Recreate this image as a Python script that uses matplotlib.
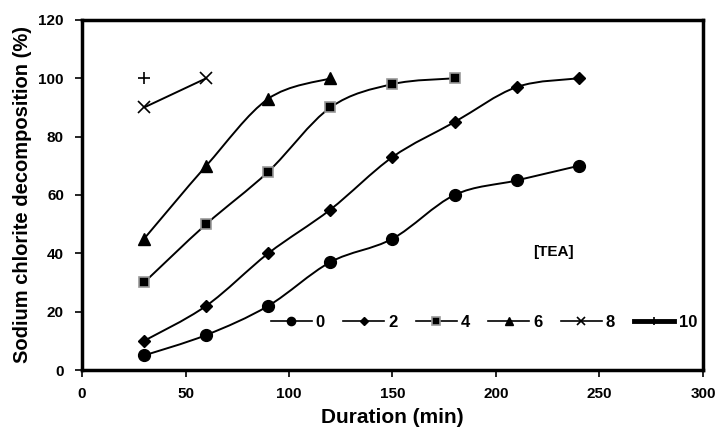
import numpy as np
import matplotlib
matplotlib.use("Agg")
import matplotlib.pyplot as plt
from matplotlib.path import Path
from matplotlib.patches import PathPatch
from matplotlib.lines import Line2D

plt.rcParams['font.family'] = ['Liberation Sans', 'DejaVu Sans']
plt.rcParams['font.weight'] = 'bold'

# === Data ===
tea_levels = ['0', '2', '4', '6', '8', '10']
dur_0 = [30, 60, 90, 120, 150, 180, 210, 240]
dec_0 = [5, 12, 22, 37, 45, 60, 65, 70]
dur_2 = [30, 60, 90, 120, 150, 180, 210, 240]
dec_2 = [10, 22, 40, 55, 73, 85, 97, 100]
dur_4 = [30, 60, 90, 120, 150, 180]
dec_4 = [30, 50, 68, 90, 98, 100]
dur_6 = [30, 60, 90, 120]
dec_6 = [45, 70, 93, 100]
dur_8 = [30, 60]
dec_8 = [90, 100]
dur_10 = [30]
dec_10 = [100]

series = [(dur_0, dec_0), (dur_2, dec_2), (dur_4, dec_4),
          (dur_6, dec_6), (dur_8, dec_8), (dur_10, dec_10)]

# marker styles per series
styles = [
    dict(marker='o', ms=8.5, mfc='black', mec='black', mew=1),
    dict(marker='D', ms=6.5, mfc='black', mec='black', mew=1),
    dict(marker='s', ms=7.5, mfc='black', mec='#999999', mew=1.2),
    dict(marker='^', ms=8.5, mfc='black', mec='black', mew=1),
    dict(marker='x', ms=8, mfc='black', mec='black', mew=1.2),
    dict(marker='+', ms=8, mfc='black', mec='black', mew=1.2),
]


def smooth_path(x, y):
    """Excel-like smoothed line: cubic bezier through the points."""
    p = np.column_stack([x, y]).astype(float)
    verts = [p[0]]
    codes = [Path.MOVETO]
    n = len(p)
    for i in range(n - 1):
        p0 = p[i - 1] if i > 0 else p[i]
        p3 = p[i + 2] if i + 2 < n else p[i + 1]
        c1 = p[i] + (p[i + 1] - p0) / 6.0
        c2 = p[i + 1] - (p3 - p[i]) / 6.0
        verts += [c1, c2, p[i + 1]]
        codes += [Path.CURVE4] * 3
    return Path(verts, codes)


fig = plt.figure(figsize=(7.17, 4.29), dpi=100)
ax = fig.add_axes([0.1144, 0.1375, 0.866, 0.816])

handles = []
for (x, y), st, lab in zip(series, styles, tea_levels):
    if len(x) > 1:
        ax.add_patch(PathPatch(smooth_path(x, y), fill=False, lw=1.4,
                               edgecolor='black', zorder=2))
    ax.plot(x, y, linestyle='none', zorder=3, **st)
    lw = 3.5 if lab == '10' else 1.2
    handles.append(Line2D([], [], color='black', lw=lw, marker=st['marker'],
                          ms=st['ms'] * 0.7, mfc=st['mfc'], mec=st['mec'],
                          mew=st['mew'], label=lab))

ax.set_xlim(0, 300)
ax.set_ylim(0, 120)
ax.set_xticks(np.arange(0, 301, 50))
ax.set_yticks(np.arange(0, 121, 20))
ax.tick_params(axis='both', labelsize=11, width=1.2, length=5, direction='out')
ax.tick_params(axis='x', pad=7)
ax.tick_params(axis='y', pad=8)
for s in ax.spines.values():
    s.set_linewidth(2.5)

ax.set_xlabel('Duration (min)', fontsize=15, fontweight='bold', labelpad=5)
ax.set_ylabel('Sodium chlorite decomposition (%)', fontsize=14.5,
              fontweight='bold', labelpad=5)

ax.text(218, 40.5, '[TEA]', fontsize=11, fontweight='bold', ha='left', va='center')

ax.legend(handles=handles, ncol=6, frameon=False, loc='center left',
          bbox_to_anchor=(0.304, 0.137), fontsize=12, handlelength=2.45,
          handletextpad=0.25, columnspacing=1.1, borderaxespad=0,
          borderpad=0)

fig.savefig('out.png', dpi=100)
